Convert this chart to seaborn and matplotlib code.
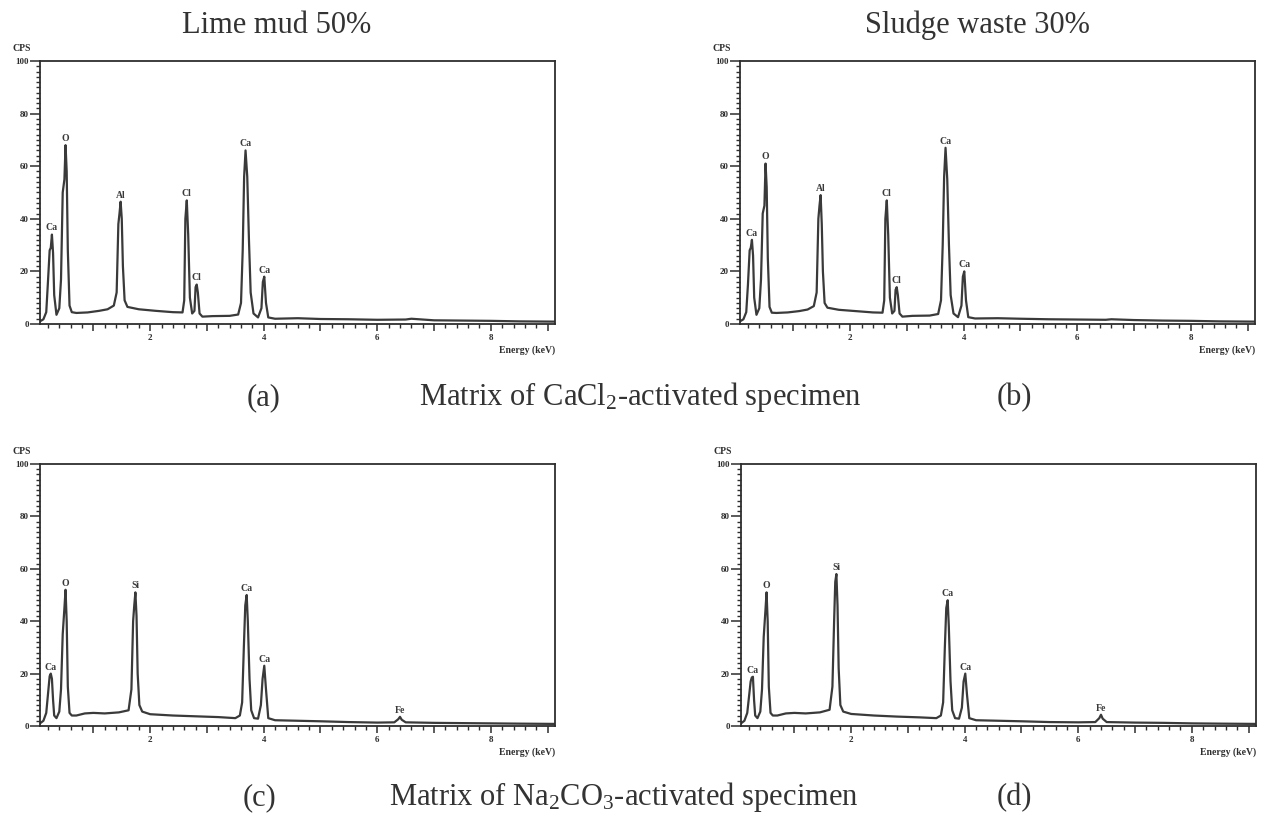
import matplotlib
matplotlib.use("Agg")
import matplotlib.pyplot as plt
import seaborn as sns
import pandas as pd
from matplotlib.font_manager import FontProperties
from matplotlib.ticker import MultipleLocator, FuncFormatter

# ---- EDS spectra (energy in keV, intensity in CPS) ----
ENERGY_CACL2 = [0.06, 0.12, 0.17, 0.20, 0.23, 0.25, 0.27, 0.29, 0.31, 0.35,
                0.40, 0.43, 0.46, 0.49, 0.51, 0.53, 0.55, 0.58, 0.62, 0.70,
                0.90, 1.10, 1.25, 1.36, 1.41, 1.44, 1.46, 1.48, 1.50, 1.52,
                1.55, 1.60, 1.80, 2.10, 2.40, 2.57, 2.60, 2.62, 2.645, 2.67,
                2.70, 2.74, 2.78, 2.80, 2.82, 2.84, 2.87, 2.92, 3.10, 3.40,
                3.55, 3.60, 3.63, 3.655, 3.68, 3.71, 3.74, 3.77, 3.82, 3.90,
                3.96, 3.985, 4.01, 4.04, 4.08, 4.20, 4.60, 5.00, 5.50, 6.00,
                6.50, 6.60, 7.00, 7.50, 8.00, 8.50, 9.13]

CPS_LIME_MUD_CACL2 = [1.0, 1.8, 4.5, 16, 28, 29, 34, 27, 11, 3.5,
                      6, 17, 50, 55, 68, 58, 28, 7, 4.5, 4.2,
                      4.4, 5.0, 5.6, 7.0, 12, 38, 42, 46.5, 40, 22,
                      9, 6.5, 5.6, 5.0, 4.5, 4.4, 9, 40, 47, 34,
                      10, 4, 5, 14, 15, 12, 4, 2.8, 3.0, 3.1,
                      3.6, 8, 28, 56, 66, 56, 32, 12, 4, 2.5,
                      6, 16, 18, 8, 2.5, 2.0, 2.2, 1.9, 1.8, 1.6,
                      1.7, 2.0, 1.4, 1.3, 1.2, 1.0, 0.9]

CPS_SLUDGE_CACL2 = [1.0, 1.8, 4.5, 15, 28, 29, 32, 26, 10, 3.5,
                    6, 17, 42, 45, 61, 52, 25, 6.5, 4.3, 4.2,
                    4.4, 4.9, 5.5, 6.8, 12, 40, 45, 49, 38, 20,
                    8, 6.2, 5.4, 4.9, 4.4, 4.3, 9, 40, 47, 34,
                    10, 4, 5, 13, 14, 11, 4, 2.8, 3.1, 3.2,
                    3.8, 9, 30, 56, 67, 55, 30, 11, 4, 2.6,
                    7, 18, 20, 9, 2.6, 2.1, 2.2, 2.0, 1.8, 1.7,
                    1.6, 1.8, 1.5, 1.3, 1.2, 1.0, 0.9]

ENERGY_NA2CO3 = [0.06, 0.12, 0.17, 0.20, 0.23, 0.25, 0.27, 0.29, 0.31, 0.35,
                 0.40, 0.43, 0.46, 0.49, 0.51, 0.53, 0.55, 0.58, 0.62, 0.70,
                 0.85, 1.00, 1.20, 1.45, 1.62, 1.67, 1.70, 1.72, 1.74, 1.76,
                 1.78, 1.81, 1.86, 2.00, 2.40, 2.80, 3.20, 3.50, 3.58, 3.62,
                 3.65, 3.675, 3.70, 3.72, 3.75, 3.78, 3.83, 3.90, 3.95, 3.98,
                 4.01, 4.04, 4.08, 4.20, 4.60, 5.00, 5.50, 6.00, 6.30, 6.37,
                 6.40, 6.43, 6.50, 7.00, 7.50, 8.00, 8.50, 9.13]

CPS_LIME_MUD_NA2CO3 = [1.0, 2.0, 5, 12, 19, 20, 18, 10, 4, 3,
                       5.5, 14, 35, 45, 52, 40, 15, 5, 4, 4,
                       4.8, 5.0, 4.8, 5.2, 6, 14, 40, 46, 51, 42,
                       20, 8, 5.5, 4.5, 4.0, 3.7, 3.4, 3.0, 4, 9,
                       30, 46, 50, 40, 18, 6, 3, 2.8, 8, 18,
                       23, 14, 3, 2.2, 2.0, 1.8, 1.5, 1.3, 1.4, 2.6,
                       3.5, 2.4, 1.4, 1.2, 1.1, 1.0, 0.9, 0.8]

CPS_SLUDGE_NA2CO3 = [1.0, 2.0, 5, 11, 17, 18.5, 18.8, 10, 4, 3,
                     5.5, 14, 34, 44, 51, 40, 15, 5, 4, 4,
                     4.8, 5.0, 4.8, 5.2, 6.2, 15, 40, 55, 58, 46,
                     22, 8, 5.5, 4.6, 4.0, 3.6, 3.3, 3.0, 4, 9,
                     30, 45, 48, 38, 17, 6, 3, 2.8, 7, 17,
                     20, 12, 3, 2.2, 2.0, 1.8, 1.5, 1.4, 1.5, 3.0,
                     4.3, 2.8, 1.5, 1.3, 1.2, 1.0, 0.9, 0.8]

# ---- peak identification labels: element, energy (keV), peak CPS ----
PEAKS_A = [("Ca", 0.27, 34), ("O", 0.51, 68), ("Al", 1.48, 46.5),
           ("Cl", 2.645, 47), ("Cl", 2.82, 15), ("Ca", 3.68, 66), ("Ca", 4.01, 18)]
PEAKS_B = [("Ca", 0.27, 32), ("O", 0.51, 61), ("Al", 1.48, 49),
           ("Cl", 2.645, 47), ("Cl", 2.82, 14), ("Ca", 3.68, 67), ("Ca", 4.01, 20)]
PEAKS_C = [("Ca", 0.25, 20), ("O", 0.51, 52), ("Si", 1.74, 51),
           ("Ca", 3.70, 50), ("Ca", 4.01, 23), ("Fe", 6.40, 3.5)]
PEAKS_D = [("Ca", 0.27, 18.8), ("O", 0.51, 51), ("Si", 1.74, 58),
           ("Ca", 3.70, 48), ("Ca", 4.01, 20), ("Fe", 6.40, 4.3)]

TITLES = ["Lime mud 50%", "Sludge waste 30%"]
PANEL_TAGS = ["(a)", "(b)", "(c)", "(d)"]
CAPTIONS = [r"Matrix of CaCl$_{\mathrm{2}}$-activated specimen",
            r"Matrix of Na$_{\mathrm{2}}$CO$_{\mathrm{3}}$-activated specimen"]

sns.set_theme(style="white")
plt.rcParams["font.family"] = ["Liberation Serif", "DejaVu Serif"]
plt.rcParams["mathtext.fontset"] = "custom"
plt.rcParams["mathtext.rm"] = "Liberation Serif"
plt.rcParams["mathtext.it"] = "Liberation Serif:italic"
plt.rcParams["mathtext.bf"] = "Liberation Serif:bold"

W, H = 1273, 822
fig = plt.figure(figsize=(W / 100, H / 100), dpi=100)
fig.patch.set_facecolor("white")


def rect(left, top, right, bottom):
    return [left / W, 1 - bottom / H, (right - left) / W, (bottom - top) / H]


panels = [
    (rect(40, 61, 555, 324), ENERGY_CACL2, CPS_LIME_MUD_CACL2, PEAKS_A),
    (rect(740, 61, 1255, 324), ENERGY_CACL2, CPS_SLUDGE_CACL2, PEAKS_B),
    (rect(40, 464, 555, 726), ENERGY_NA2CO3, CPS_LIME_MUD_NA2CO3, PEAKS_C),
    (rect(741, 464, 1256, 726), ENERGY_NA2CO3, CPS_SLUDGE_NA2CO3, PEAKS_D),
]

ink = "#2e2e2e"
tick_font = dict(family="Liberation Serif", weight="bold", size=6.5)
small_font = dict(family="Liberation Serif", weight="bold", size=7)

for r, energy, cps, peaks in panels:
    ax = fig.add_axes(r)
    df = pd.DataFrame({"Energy": energy, "CPS": cps})
    sns.lineplot(data=df, x="Energy", y="CPS", ax=ax, color="#3a3a3a",
                 linewidth=1.6, estimator=None, sort=True)
    ax.set_xlim(0.06, 9.13)
    ax.set_ylim(0, 100)
    ax.set_xlabel("")
    ax.set_ylabel("")
    for s in ax.spines.values():
        s.set_color(ink)
        s.set_linewidth(1.3)
    ax.xaxis.set_major_locator(MultipleLocator(1))
    ax.xaxis.set_minor_locator(MultipleLocator(0.2))
    ax.xaxis.set_major_formatter(FuncFormatter(
        lambda v, p: f"{int(round(v))}" if int(round(v)) % 2 == 0 and v > 0.5 else ""))
    ax.yaxis.set_major_locator(MultipleLocator(20))
    ax.yaxis.set_minor_locator(MultipleLocator(2))
    ax.tick_params(axis="both", which="both", direction="out", color=ink,
                   bottom=True, left=True, top=False, right=False)
    ax.tick_params(axis="x", which="major", length=5, width=1.1, pad=2)
    ax.tick_params(axis="x", which="minor", length=3, width=1.0)
    ax.tick_params(axis="y", which="major", length=7, width=1.1, pad=1)
    ax.tick_params(axis="y", which="minor", length=3, width=1.0)
    for lab in ax.get_xticklabels() + ax.get_yticklabels():
        lab.set_fontproperties(FontProperties(**tick_font))
        lab.set_color(ink)
    ax.text(-0.035, 1.03, "CPS", transform=ax.transAxes, ha="center",
            va="bottom", color=ink, **small_font)
    ax.text(1.0, -0.08, "Energy (keV)", transform=ax.transAxes, ha="right",
            va="top", color=ink, **small_font)
    for name, e, h in peaks:
        ax.annotate(name, xy=(e, h), xytext=(0, 1.5), textcoords="offset points",
                    ha="center", va="bottom", fontsize=7, weight="bold",
                    color="#3a3a3a", family="Liberation Serif")

# titles above the two columns
fig.text(277 / W, 1 - 33 / H, TITLES[0], ha="center", va="baseline",
         fontsize=22, color="#333333")
fig.text(977 / W, 1 - 33 / H, TITLES[1], ha="center", va="baseline",
         fontsize=22, color="#333333")

# row captions
row_base = [1 - 405 / H, 1 - 805 / H]
fig.text(264 / W, row_base[0], PANEL_TAGS[0], ha="center", va="baseline",
         fontsize=22, color="#333333")
fig.text(640 / W, row_base[0], CAPTIONS[0], ha="center", va="baseline",
         fontsize=22, color="#333333")
fig.text(1014 / W, row_base[0], PANEL_TAGS[1], ha="center", va="baseline",
         fontsize=22, color="#333333")
fig.text(259 / W, row_base[1], PANEL_TAGS[2], ha="center", va="baseline",
         fontsize=22, color="#333333")
fig.text(624 / W, row_base[1], CAPTIONS[1], ha="center", va="baseline",
         fontsize=22, color="#333333")
fig.text(1014 / W, row_base[1], PANEL_TAGS[3], ha="center", va="baseline",
         fontsize=22, color="#333333")

fig.savefig("out.png", dpi=100, facecolor="white")
